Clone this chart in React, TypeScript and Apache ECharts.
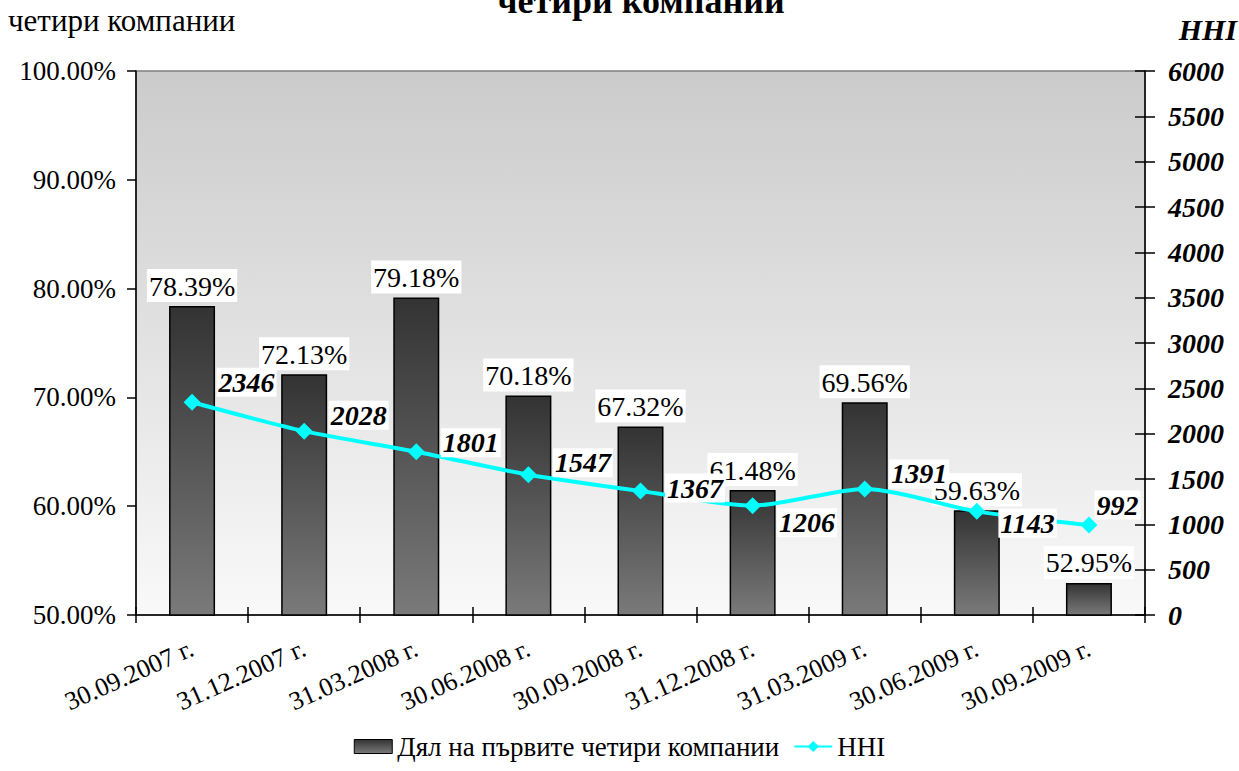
import React, { useEffect, useRef } from 'react';
import * as echarts from 'echarts';

const categories = [
  '30.09.2007 г.', '31.12.2007 г.', '31.03.2008 г.', '30.06.2008 г.', '30.09.2008 г.',
  '31.12.2008 г.', '31.03.2009 г.', '30.06.2009 г.', '30.09.2009 г.',
];
const shareValues = [78.39, 72.13, 79.18, 70.18, 67.32, 61.48, 69.56, 59.63, 52.95];
const hhiValues = [2346, 2028, 1801, 1547, 1367, 1206, 1391, 1143, 992];
const shareName = 'Дял на първите четири компании';
const hhiName = 'HHI';
const titleText = 'четири компании';
const leftAxisName = 'четири компании';
const rightAxisName = 'HHI';

// label placement tweaks for the HHI labels (dx, dy)
const hhiLabelOffsets = [
  [16, -20], [16, -16], [16, -9], [16, -12], [16, -3], [16, 17], [16, -15], [13, 12], [-3, -20],
];

const FONT = 'Liberation Serif';

export default function App() {
  const ref = useRef<HTMLDivElement>(null);

  useEffect(() => {
    if (!ref.current) return;
    const chart = echarts.init(ref.current, undefined, { renderer: 'svg' });

    const barGradient = new echarts.graphic.LinearGradient(0, 0, 0, 1, [
      { offset: 0, color: '#333333' },
      { offset: 1, color: '#7a7a7a' },
    ]);
    const bgGradient = new echarts.graphic.LinearGradient(0, 0, 0, 1, [
      { offset: 0, color: '#cbcbcb' },
      { offset: 1, color: '#f9f9f9' },
    ]);

    const option: any = {
      animation: false,
      grid: {
        left: 136,
        right: 94,
        top: 71,
        bottom: 156,
        show: true,
        backgroundColor: bgGradient,
        borderColor: '#808080',
        borderWidth: 1.5,
      },
      legend: {
        bottom: 6,
        left: 'center',
        itemWidth: 38,
        itemHeight: 14,
        itemGap: 14,
        textStyle: { fontFamily: FONT, fontSize: 27, color: '#000' },
        data: [
          { name: shareName, icon: 'rect', itemStyle: { borderColor: '#000', borderWidth: 1 } },
          { name: hhiName },
        ],
      },
      graphic: [
        {
          type: 'text',
          x: 641,
          y: -17,
          style: {
            text: titleText,
            fontFamily: FONT,
            fontSize: 36,
            fontWeight: 'bold',
            fill: '#000',
            align: 'center',
            verticalAlign: 'top',
          },
        },
        {
          type: 'text',
          x: 8,
          y: 20,
          style: {
            text: leftAxisName,
            fontFamily: FONT,
            fontSize: 31,
            fill: '#000',
            align: 'left',
            verticalAlign: 'middle',
          },
        },
        {
          type: 'text',
          x: 1237,
          y: 29,
          style: {
            text: rightAxisName,
            fontFamily: FONT,
            fontSize: 30,
            fontWeight: 'bold',
            fontStyle: 'italic',
            fill: '#000',
            align: 'right',
            verticalAlign: 'middle',
          },
        },
      ],
      xAxis: [
        {
          type: 'category',
          data: categories,
          boundaryGap: true,
          axisLine: { lineStyle: { color: '#000', width: 1.5 } },
          axisTick: { show: true, length: 8, lineStyle: { color: '#000', width: 1.5 } },
          axisLabel: {
            rotate: 24,
            margin: 32,
            fontFamily: FONT,
            fontSize: 26,
            color: '#000',
            interval: 0,
          },
        },
        {
          type: 'category',
          data: categories,
          position: 'bottom',
          boundaryGap: true,
          axisLine: { show: false },
          axisTick: { show: true, inside: true, length: 8, lineStyle: { color: '#000', width: 1.5 } },
          axisLabel: { show: false },
        },
      ],
      yAxis: [
        {
          type: 'value',
          min: 50,
          max: 100,
          interval: 10,
          position: 'left',
          splitLine: { show: false },
          axisLine: { show: true, lineStyle: { color: '#000', width: 1.5 } },
          axisTick: { show: true, length: 9, lineStyle: { color: '#000', width: 1.5 } },
          axisLabel: {
            margin: 20,
            fontFamily: FONT,
            fontSize: 27,
            color: '#000',
            formatter: (v: number) => v.toFixed(2) + '%',
          },
        },
        {
          type: 'value',
          min: 0,
          max: 6000,
          interval: 500,
          position: 'right',
          splitLine: { show: false },
          axisLine: { show: true, lineStyle: { color: '#000', width: 1.5 } },
          axisTick: { show: true, length: 10, lineStyle: { color: '#000', width: 1.5 } },
          axisLabel: {
            margin: 23,
            fontFamily: FONT,
            fontSize: 28,
            fontWeight: 'bold',
            fontStyle: 'italic',
            color: '#000',
            formatter: (v: number) => String(v),
          },
        },
        {
          type: 'value',
          min: 0,
          max: 6000,
          interval: 500,
          position: 'right',
          splitLine: { show: false },
          axisLine: { show: false },
          axisTick: { show: true, inside: true, length: 10, lineStyle: { color: '#000', width: 1.5 } },
          axisLabel: { show: false },
        },
      ],
      series: [
        {
          name: shareName,
          type: 'bar',
          xAxisIndex: 0,
          yAxisIndex: 0,
          data: shareValues,
          barWidth: 46,
          itemStyle: { color: barGradient, borderColor: '#000', borderWidth: 1.5 },
          label: {
            show: true,
            position: 'top',
            distance: 4,
            fontFamily: FONT,
            fontSize: 28,
            color: '#000',
            backgroundColor: '#fff',
            padding: [3, 2, 2, 2],
            formatter: (p: any) => p.value.toFixed(2) + '%',
          },
          z: 2,
        },
        {
          name: hhiName,
          type: 'line',
          xAxisIndex: 0,
          yAxisIndex: 1,
          smooth: 0.25,
          symbol: 'diamond',
          symbolSize: 17,
          color: '#00ffff',
          lineStyle: { color: '#00ffff', width: 4 },
          itemStyle: { color: '#00ffff' },
          data: hhiValues.map((v, i) => ({
            value: v,
            label: { offset: hhiLabelOffsets[i] },
          })),
          label: {
            show: true,
            position: 'right',
            distance: 0,
            fontFamily: FONT,
            fontSize: 28,
            fontWeight: 'bold',
            fontStyle: 'italic',
            color: '#000',
            backgroundColor: '#fff',
            padding: [1, 2, 0, 2],
          },
          z: 3,
        },
      ],
    };

    chart.setOption(option);
    return () => chart.dispose();
  }, []);

  return (
    <div
      ref={ref}
      style={{ position: 'fixed', left: 0, top: 0, width: 1239, height: 771, background: '#fff' }}
    />
  );
}
